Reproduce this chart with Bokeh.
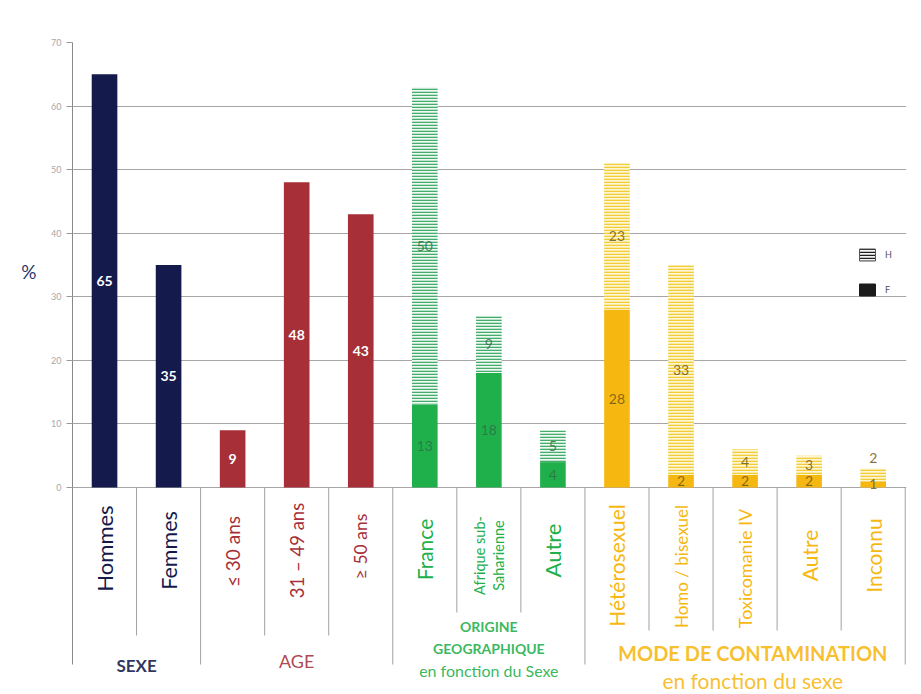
import numpy as np
from bokeh.plotting import figure
from bokeh.models import (Range1d, FixedTicker, ColumnDataSource, Legend, LegendItem,
                          LinearAxis)
from bokeh.core.properties import value
from bokeh.embed import file_html
from bokeh.resources import INLINE

# ---------------- data ----------------
sexe_cats = ["Hommes", "Femmes"]
sexe_vals = [65, 35]
age_cats = ["≤ 30 ans", "31 – 49 ans", "≥ 50 ans"]
age_vals = [9, 48, 43]
origine_cats = ["France", "Afrique sub-\nSaharienne", "Autre"]
origine_F = [13, 18, 4]
origine_H = [50, 9, 5]
mode_cats = ["Hétérosexuel", "Homo / bisexuel", "Toxicomanie IV", "Autre", "Inconnu"]
mode_F = [28, 2, 2, 2, 1]
mode_H = [23, 33, 4, 3, 2]
y_ticks = [0, 10, 20, 30, 40, 50, 60, 70]
y_title = "%"
group_titles = ["SEXE", "AGE", "ORIGINE\nGEOGRAPHIQUE", "MODE DE CONTAMINATION"]
group_subtitles = ["", "", "en fonction du Sexe", "en fonction du sexe"]
legend_labels = ["H", "F"]

# ---------------- styles ----------------
NAVY = "#141a4c"
RED = "#a62f38"
GREEN = "#20b04b"
GREEN_H = "#45ad6c"
YELLOW = "#f7b711"
YELLOW_H = "#f2cd35"
FONT = value("Lato")

W, H = 921, 694
TOP = 42
BASE = 487
LEFT = 72
PX_PER_UNIT = (BASE - TOP) / 70.0
Y_BOTTOM = 70 - (H - TOP) / PX_PER_UNIT


def py(pix):
    """vertical pixel (from top of page) -> data value"""
    return (BASE - pix) / PX_PER_UNIT


p = figure(width=W, height=H, output_backend="svg", toolbar_location=None,
           x_range=Range1d(0, 13.02), y_range=Range1d(Y_BOTTOM, 70),
           x_axis_location=None, min_border_left=LEFT, min_border_right=15,
           min_border_top=TOP, min_border_bottom=0)
p.outline_line_color = None
p.background_fill_color = "white"
p.border_fill_color = "white"
p.xgrid.visible = False
p.ygrid.grid_line_color = "#a9a4a6"
p.ygrid.grid_line_width = 1

SEP_LONG = py(664)
yax = p.yaxis[0]
yax.ticker = FixedTicker(ticks=y_ticks)
yax.bounds = (SEP_LONG, 70)
yax.axis_line_color = "#8a8a8a"
yax.major_tick_line_color = "#9a9a9a"
yax.major_tick_out = 6
yax.major_tick_in = 0
yax.minor_tick_line_color = None
yax.major_label_text_font_size = "9px"
yax.major_label_text_color = "#a8a8a8"
yax.major_label_text_font = "Lato"
yax.major_label_standoff = 5

# "%" title: a second left axis carrying a single horizontal label
TITLE_TICK = 34
pct_axis = LinearAxis(ticker=FixedTicker(ticks=[TITLE_TICK]),
                      major_label_overrides={TITLE_TICK: y_title},
                      axis_line_color=None, major_tick_line_color=None,
                      minor_tick_line_color=None, major_label_standoff=6,
                      major_label_text_font="Lato", major_label_text_font_size="19px",
                      major_label_text_color="#2b3a6e")
p.add_layout(pct_axis, "left")

# ---------------- bars ----------------
n_s, n_a, n_o, n_m = len(sexe_cats), len(age_cats), len(origine_cats), len(mode_cats)
x_s = np.arange(n_s) + 0.5
x_a = np.arange(n_a) + n_s + 0.5
x_o = np.arange(n_o) + n_s + n_a + 0.5
x_m = np.arange(n_m) + n_s + n_a + n_o + 0.5
BW = 0.4

p.vbar(x=x_s, top=sexe_vals, width=BW, fill_color=NAVY, line_color=None)
p.vbar(x=x_a, top=age_vals, width=BW, fill_color=RED, line_color=None)

oF = np.array(origine_F, float); oH = np.array(origine_H, float)
mF = np.array(mode_F, float); mH = np.array(mode_H, float)

p.vbar(x=x_o, bottom=0, top=oF, width=BW, fill_color=GREEN, line_color=None)
p.vbar(x=x_o, bottom=oF, top=oF + oH, width=BW, fill_color="#f1f9f3", line_color=None,
       hatch_pattern="horizontal_line", hatch_color=GREEN_H, hatch_scale=3, hatch_weight=1.6)
p.vbar(x=x_m, bottom=0, top=mF, width=BW, fill_color=YELLOW, line_color=None)
p.vbar(x=x_m, bottom=mF, top=mF + mH, width=BW, fill_color="#fdf6d6", line_color=None,
       hatch_pattern="horizontal_line", hatch_color=YELLOW_H, hatch_scale=3, hatch_weight=1.6)

# value labels
white_src = ColumnDataSource(dict(
    x=np.concatenate([x_s, x_a]),
    y=np.concatenate([np.array(sexe_vals) / 2.0, np.array(age_vals) / 2.0]),
    t=[str(v) for v in sexe_vals + age_vals]))
p.text(x="x", y="y", text="t", source=white_src, text_color="white", text_font=FONT,
       text_font_size="14px", text_font_style="bold", text_align="center", text_baseline="middle")


def seg_labels(xs, F, Hh):
    ys_h = np.where(Hh >= 3, F + Hh / 2.0, F + Hh + 1.7)
    return dict(x=np.concatenate([xs, xs]), y=np.concatenate([F / 2.0, ys_h]),
                t=[str(int(v)) for v in F] + [str(int(v)) for v in Hh])


p.text(x="x", y="y", text="t", source=ColumnDataSource(seg_labels(x_o, oF, oH)),
       text_color="#2f7047", text_alpha=0.85, text_font=FONT, text_font_size="14px",
       text_align="center", text_baseline="middle")
p.text(x="x", y="y", text="t", source=ColumnDataSource(seg_labels(x_m, mF, mH)),
       text_color="#6e5a14", text_alpha=0.85, text_font=FONT, text_font_size="14px",
       text_align="center", text_baseline="middle")

# ---------------- category labels (rotated) ----------------
cats = sexe_cats + age_cats + origine_cats + mode_cats
cat_colors = [NAVY] * n_s + [RED] * n_a + [GREEN] * n_o + [YELLOW] * n_m
cat_sizes = ["22px", "21.5px", "19px", "18.5px", "17.5px", "21px", "14.5px", "22px",
             "21px", "17px", "18px", "21px", "21px"]
cat_centers_px = [548, 550, 551, 550, 546, 549, 555, 550, 565, 566, 568, 555, 555]
cat_src = ColumnDataSource(dict(x=np.concatenate([x_s, x_a, x_o, x_m]),
                                y=[py(v) for v in cat_centers_px], t=cats, c=cat_colors,
                                fs=cat_sizes))
p.text(x="x", y="y", text="t", source=cat_src, angle=np.pi / 2, text_color="c",
       text_font=FONT, text_font_size="fs", text_align="center", text_baseline="middle",
       text_line_height=1.1)

# ---------------- separators ----------------
bounds = np.cumsum([0, n_s, n_a, n_o, n_m])
inner_depth = [py(635), py(635), py(612), py(630)]
sx, sy1 = [], []
for gi in range(4):
    for k in range(bounds[gi] + 1, bounds[gi + 1]):
        sx.append(k); sy1.append(inner_depth[gi])
for b in bounds[1:]:
    sx.append(b); sy1.append(SEP_LONG)
p.segment(x0=sx, y0=[0] * len(sx), x1=sx, y1=sy1, line_color="#a0a0a0", line_width=1)

# ---------------- group titles ----------------
centers = [(bounds[i] + bounds[i + 1]) / 2.0 for i in range(4)]
title_x_shift = [0.0, 0.0, 0.0, 0.12]
title_y = [py(665), py(660), py(637), py(652)]
title_colors = [NAVY, RED, GREEN, YELLOW]
title_sizes = ["17px", "18px", "14px", "20px"]
title_styles = ["bold", "normal", "bold", "bold"]
for i in range(4):
    p.text(x=[centers[i] + title_x_shift[i]], y=[title_y[i]], text=[group_titles[i]],
           text_color=title_colors[i], text_font=FONT, text_font_size=title_sizes[i],
           text_font_style=title_styles[i], text_align="center", text_baseline="middle",
           text_line_height=1.3, text_alpha=0.9)
sub_y = [0, 0, py(670), py(680)]
sub_sizes = ["", "", "16px", "21px"]
for i in range(2, 4):
    p.text(x=[centers[i] + title_x_shift[i]], y=[sub_y[i]], text=[group_subtitles[i]],
           text_color=title_colors[i], text_font=FONT, text_font_size=sub_sizes[i],
           text_align="center", text_baseline="middle", text_alpha=0.9)

# ---------------- legend ----------------
leg_src = ColumnDataSource(dict(x=[-5.0], top=[1.0]))
rH = p.vbar(x="x", top="top", source=leg_src, width=BW, fill_color="#f4f4f4", line_color="#555555",
            hatch_pattern="horizontal_line", hatch_color="#1e1e1e", hatch_scale=3, hatch_weight=1.5)
rF = p.vbar(x="x", top="top", source=leg_src, width=BW, fill_color="#1c1c1c", line_color="#1c1c1c")
legend = Legend(items=[LegendItem(label=legend_labels[0], renderers=[rH]),
                       LegendItem(label=legend_labels[1], renderers=[rF])],
                location=(785, 397), orientation="vertical", glyph_width=20, glyph_height=15,
                spacing=20, padding=0, margin=0, label_standoff=8, border_line_color=None,
                background_fill_alpha=0, label_text_font="Lato", label_text_font_size="9px",
                label_text_color="#555555", label_height=15)
p.add_layout(legend)

open("out.html", "w").write(file_html(p, INLINE))
